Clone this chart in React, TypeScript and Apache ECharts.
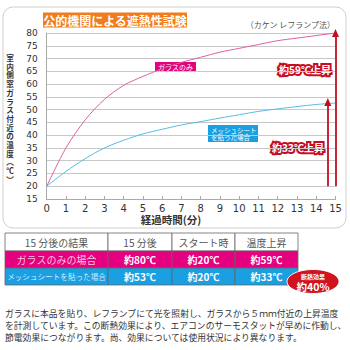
import React, { useEffect, useRef } from "react";
import * as echarts from "echarts";

const minutes = [0, 1, 2, 3, 4, 5, 6, 7, 8, 9, 10, 11, 12, 13, 14, 15];
const glassOnly = [20, 35, 46, 54, 59.5, 63, 66, 68.5, 70.5, 72.5, 74, 75.5, 77, 78, 79, 80];
const meshSheet = [20, 25.8, 30.8, 35, 38, 40.5, 42.3, 44, 45.3, 46.7, 48, 49.3, 50.3, 51.2, 52, 52.6];

const tableHeader = ["15 分後の結果", "15 分後", "スタート時", "温度上昇"];
const rowLabels = ["ガラスのみの場合", "メッシュシートを貼った場合"];
const after15 = [80, 53];
const startTemp = [20, 20];
const rise = [59, 33];
const insulationEffect = 40;

const noteLines = [
  "ガラスに本品を貼り、レフランプにて光を照射し、ガラスから５ｍｍ付近の上昇温度",
  "を計測しています。この断熱効果により、エアコンのサーモスタットが早めに作動し、",
  "節電効果につながります。尚、効果については使用状況により異なります。",
];

const yTitle = ["室", "内", "側", "窓", "ガ", "ラ", "ス", "付", "近", "の", "温", "度", "︵", "℃", "︶"];

const PINK = "#e4007f";
const BLUE = "#1a9fe3";
const RED = "#c40d22";
const JP = '"Noto Sans CJK JP", "Noto Sans", sans-serif';

export default function App() {
  const ref = useRef<HTMLDivElement>(null);
  useEffect(() => {
    if (!ref.current) return;
    const chart = echarts.init(ref.current, undefined, { renderer: "svg" });

    const colX = [5, 108, 172, 235, 298];
    const rowY = [233, 251, 268, 285];
    const tableEls: any[] = [];
    const rowFill = ["#ffffff", PINK, BLUE];
    const rows = [
      tableHeader,
      [rowLabels[0], `約${after15[0]}℃`, `約${startTemp[0]}℃`, `約${rise[0]}℃`],
      [rowLabels[1], `約${after15[1]}℃`, `約${startTemp[1]}℃`, `約${rise[1]}℃`],
    ];
    rows.forEach((row, r) => {
      row.forEach((txt, c) => {
        const x0 = colX[c], x1 = colX[c + 1], y0 = rowY[r], y1 = rowY[r + 1];
        tableEls.push({
          type: "rect",
          shape: { x: x0, y: y0, width: x1 - x0, height: y1 - y0 },
          style: { fill: rowFill[r], stroke: "#666", lineWidth: 0.8 },
          silent: true,
        });
        let color = "#555";
        let weight: any = "normal";
        let size = 10;
        if (r > 0) {
          if (c === 0) {
            color = r === 1 ? "#f9c4df" : "#cdeeff";
            size = r === 1 ? 10 : 7.6;
          } else {
            color = "#ffffff";
            weight = "bold";
          }
        }
        tableEls.push({
          type: "text",
          x: (x0 + x1) / 2,
          y: (y0 + y1) / 2,
          style: {
            text: txt,
            fill: color,
            font: `${weight} ${size}px ${JP}`,
            textAlign: "center",
            textVerticalAlign: "middle",
          },
          silent: true,
        });
      });
    });

    const yTitleEls = yTitle.map((ch, i) => ({
      type: "text",
      x: 10,
      y: 57.5 + i * 8.7,
      style: {
        text: ch,
        fill: "#333",
        font: `bold 7.6px ${JP}`,
        textAlign: "center",
        textVerticalAlign: "middle",
      },
      silent: true,
    }));

    chart.setOption({
      animation: false,
      grid: { left: 46.7, right: 14.5, top: 33, bottom: 151 },
      xAxis: {
        type: "value",
        min: 0,
        max: 15,
        interval: 1,
        axisLine: { show: true, lineStyle: { color: "#aaa", width: 1 } },
        axisTick: { show: true, inside: true, length: 3, lineStyle: { color: "#aaa" } },
        splitLine: { show: false },
        axisLabel: { color: "#333", fontSize: 10, fontFamily: "DejaVu Sans", margin: 4 },
      },
      yAxis: {
        type: "value",
        min: 15,
        max: 80,
        interval: 5,
        axisLine: { show: true, lineStyle: { color: "#aaa", width: 1 } },
        axisTick: { show: false },
        splitLine: { show: true, lineStyle: { color: "#c8c8c8", width: 1 } },
        axisLabel: { color: "#333", fontSize: 9, fontFamily: "DejaVu Sans", margin: 9 },
      },
      series: [
        {
          type: "line",
          data: minutes.map((m, i) => [m, glassOnly[i]]),
          smooth: 0.3,
          showSymbol: false,
          lineStyle: { color: "#dc5fa2", width: 1 },
          z: 3,
        },
        {
          type: "line",
          data: minutes.map((m, i) => [m, meshSheet[i]]),
          smooth: 0.3,
          showSymbol: false,
          lineStyle: { color: "#57bbe2", width: 1 },
          z: 3,
          markLine: {
            silent: true,
            symbol: ["none", "triangle"],
            symbolSize: [7, 8],
            label: { show: false },
            lineStyle: { color: RED, width: 1.8, type: "solid" },
            data: [
              [{ coord: [15, startTemp[0]] }, { coord: [15, after15[0]] }],
              [{ coord: [14.6, startTemp[1]] }, { coord: [14.6, after15[1]] }],
            ],
          },
        },
      ],
      graphic: [
        {
          type: "rect",
          shape: { x: 3, y: 7, width: 343, height: 221, r: 10 },
          style: { fill: "none", stroke: "#cfcfcf", lineWidth: 1 },
          silent: true,
          z: -1,
        },
        {
          type: "rect",
          shape: { x: 43, y: 12.5, width: 144, height: 15 },
          style: { fill: "#ef7d1d" },
          silent: true,
        },
        {
          type: "text",
          x: 115,
          y: 20,
          style: {
            text: "公的機関による遮熱性試験",
            fill: "#fff",
            font: `bold 12px ${JP}`,
            textAlign: "center",
            textVerticalAlign: "middle",
          },
        },
        {
          type: "text",
          x: 335,
          y: 24,
          style: {
            text: "（カケン レフランプ法）",
            fill: "#555",
            font: `8px ${JP}`,
            textAlign: "right",
            textVerticalAlign: "middle",
          },
        },
        ...yTitleEls,
        {
          type: "text",
          x: 171,
          y: 219,
          style: {
            text: "経過時間(分)",
            fill: "#333",
            font: `bold 10.5px ${JP}`,
            textAlign: "center",
            textVerticalAlign: "middle",
          },
        },
        {
          type: "rect",
          shape: { x: 155, y: 62, width: 41, height: 10 },
          style: { fill: PINK },
          silent: true,
        },
        {
          type: "text",
          x: 175.5,
          y: 67,
          style: {
            text: "ガラスのみ",
            fill: "#fff",
            font: `7px ${JP}`,
            textAlign: "center",
            textVerticalAlign: "middle",
          },
        },
        {
          type: "rect",
          shape: { x: 208, y: 125, width: 50, height: 17 },
          style: { fill: BLUE },
          silent: true,
        },
        {
          type: "text",
          x: 211,
          y: 129.7,
          style: {
            text: "メッシュシート",
            fill: "#fff",
            font: `6.5px ${JP}`,
            textAlign: "left",
            textVerticalAlign: "middle",
          },
        },
        {
          type: "text",
          x: 211,
          y: 137.3,
          style: {
            text: "を貼った場合",
            fill: "#fff",
            font: `6.5px ${JP}`,
            textAlign: "left",
            textVerticalAlign: "middle",
          },
        },
        {
          type: "text",
          x: 305,
          y: 69,
          style: {
            text: `約${rise[0]}℃上昇`,
            fill: "#fff",
            stroke: RED,
            lineWidth: 4,
            font: `bold 10px ${JP}`,
            textAlign: "center",
            textVerticalAlign: "middle",
          },
        },
        {
          type: "text",
          x: 298,
          y: 147.5,
          style: {
            text: `約${rise[1]}℃上昇`,
            fill: "#fff",
            stroke: RED,
            lineWidth: 4,
            font: `bold 10px ${JP}`,
            textAlign: "center",
            textVerticalAlign: "middle",
          },
        },
        ...tableEls,
        {
          type: "ellipse",
          shape: { cx: 313, cy: 281.5, rx: 26, ry: 12 },
          style: { fill: "#d0131f", stroke: "#fff", lineWidth: 1 },
          silent: true,
        },
        {
          type: "text",
          x: 313,
          y: 276,
          style: {
            text: "断熱効果",
            fill: "#fff",
            font: `bold 6px ${JP}`,
            textAlign: "center",
            textVerticalAlign: "middle",
          },
        },
        {
          type: "text",
          x: 313,
          y: 286.5,
          style: {
            text: `約${insulationEffect}%`,
            fill: "#fff",
            font: `bold 10.5px ${JP}`,
            textAlign: "center",
            textVerticalAlign: "middle",
          },
        },
        ...noteLines.map((line, i) => ({
          type: "text",
          x: 5,
          y: 313 + i * 12,
          style: {
            text: line,
            fill: "#333",
            font: `8.8px ${JP}`,
            textAlign: "left",
            textVerticalAlign: "middle",
          },
        })),
      ],
    });
    return () => chart.dispose();
  }, []);
  return (
    <div
      ref={ref}
      style={{ position: "fixed", left: 0, top: 0, width: 350, height: 350, background: "#fff" }}
    />
  );
}
